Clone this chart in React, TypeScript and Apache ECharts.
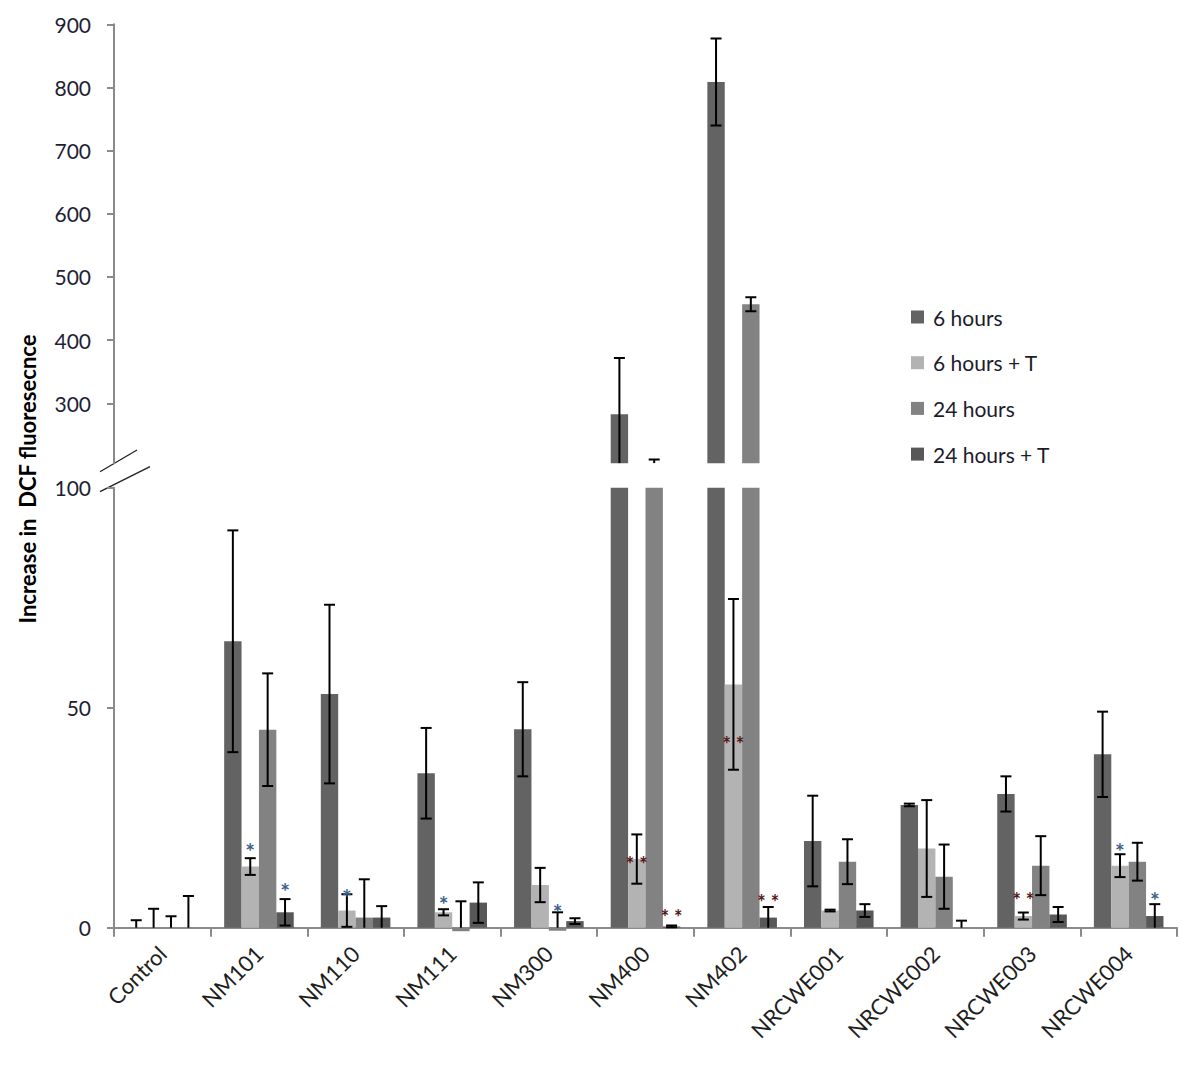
import React, { useEffect, useRef } from "react";
import * as echarts from "echarts";

const categories = ["Control", "NM101", "NM110", "NM111", "NM300", "NM400", "NM402", "NRCWE001", "NRCWE002", "NRCWE003", "NRCWE004"];
const seriesNames = ["6 hours", "6 hours + T", "24 hours", "24 hours + T"];
const colors = ["#636363", "#b3b3b3", "#828282", "#585858"];

const h6 = [0, 65.1, 53.1, 35.1, 45.1, 282.6, 808.7, 19.7, 27.9, 30.4, 39.4];
const h6Err = [1.7, 25.2, 20.3, 10.3, 10.7, 89, 69, 10.3, 0.3, 4.0, 9.7];
const h6T = [0, 13.9, 3.9, 3.5, 9.7, 15.6, 55.3, 3.9, 18.0, 2.65, 14.1];
const h6TErr = [4.3, 1.9, 3.7, 0.7, 3.9, 5.6, 19.4, 0.2, 11.0, 0.8, 2.6];
const h24 = [0, 45.0, 2.3, -0.8, -0.7, 203, 456.8, 15.0, 11.6, 14.1, 15.0];
const h24Err = [2.6, 12.8, 8.7, 6.8, 4.2, 8, 11, 5.1, 7.3, 6.7, 4.3];
const h24T = [0, 3.5, 2.3, 5.7, 1.5, 0.3, 2.3, 3.9, 0, 3.0, 2.65];
const h24TErr = [7.2, 3.0, 2.6, 4.6, 0.65, 0.2, 2.4, 1.45, 1.6, 1.7, 2.7];

// significance marks: text and the value at which they sit
const sig6T = ["", "*", "*", "*", "", "**", "**", "", "", "**", "*"];
const sig6TAt = [0, 19.2, 8.7, 7.3, 0, 15.6, 43, 0, 0, 7.5, 19.2];
const sig24 = ["", "", "", "", "*", "", "", "", "", "", ""];
const sig24At = [0, 0, 0, 0, 5.3, 0, 0, 0, 0, 0, 0];
const sig24T = ["", "*", "", "", "", "**", "**", "", "", "", "*"];
const sig24TAt = [0, 10.2, 0, 0, 0, 3.6, 7.0, 0, 0, 0, 8.1];

const upperTicks = [300, 400, 500, 600, 700, 800, 900];

const values = [h6, h6T, h24, h24T];
const errors = [h6Err, h6TErr, h24Err, h24TErr];
const sigs = [null, sig6T, sig24, sig24T];
const sigAts = [null, sig6TAt, sig24At, sig24TAt];

const UPPER_MIN = 205;
const UPPER_MAX = 900;
const LOWER_MIN = 0;
const LOWER_MAX = 100;
const BAR_FRAC = 0.18;

function errorRenderer(min: number, max: number) {
  return (params: any, api: any) => {
    const c = api.value(0);
    const s = api.value(1);
    const v = api.value(2);
    const e = api.value(3);
    const lo = v - e;
    const hi = v + e;
    const cLo = Math.max(lo, min);
    const cHi = Math.min(hi, max);
    if (cHi <= cLo) return null;
    const center = api.coord([c, min])[0];
    const band = api.size([1, 0])[0];
    const bw = band * BAR_FRAC;
    const x = center + (s - 1.5) * bw;
    const yHi = api.coord([c, cHi])[1];
    const yLo = api.coord([c, cLo])[1];
    const style = { stroke: "#000", lineWidth: 2 };
    const cap = 5.5;
    const children: any[] = [
      { type: "line", shape: { x1: x, y1: yHi, x2: x, y2: yLo }, style },
    ];
    if (hi <= max) children.push({ type: "line", shape: { x1: x - cap, y1: yHi, x2: x + cap, y2: yHi }, style });
    if (lo >= min) children.push({ type: "line", shape: { x1: x - cap, y1: yLo, x2: x + cap, y2: yLo }, style });
    return { type: "group", children };
  };
}

const sigData: { c: number; s: number; at: number; text: string }[] = [];
sigs.forEach((arr, s) => {
  if (!arr) return;
  arr.forEach((t, c) => {
    if (t) sigData.push({ c, s, at: (sigAts[s] as number[])[c], text: t });
  });
});

function sigRenderer(params: any, api: any) {
  const c = api.value(0);
  const s = api.value(1);
  const y = api.value(2);
  const item = sigData[params.dataIndex];
  const center = api.coord([c, 0])[0];
  const band = api.size([1, 0])[0];
  const bw = band * BAR_FRAC;
  const x = center + (s - 1.5) * bw;
  const py = api.coord([c, y])[1];
  const dbl = item.text === "**";
  return {
    type: "text",
    x,
    y: py + (dbl ? 5 : 8),
    style: {
      text: dbl ? "* *" : "*",
      fill: dbl ? "#5a1414" : "#3c5f8e",
      font: dbl ? "bold 20px Lato" : "bold 23px Lato",
      textAlign: "center",
      textVerticalAlign: "middle",
    },
  };
}

export default function App() {
  const ref = useRef<HTMLDivElement>(null);
  useEffect(() => {
    document.body.style.margin = "0";
    if (!ref.current) return;
    const chart = echarts.init(ref.current, null, { renderer: "svg" });

    const errData: number[][] = [];
    values.forEach((arr, s) => arr.forEach((v, c) => errData.push([c, s, v, errors[s][c]])));

    const labelStyle = { color: "#1e1e36", fontSize: 21, fontFamily: "Lato" };
    const axisLineStyle = { color: "#8a8a8a", width: 2 };

    const barSeries: any[] = [];
    values.forEach((arr, s) => {
      barSeries.push({
        name: seriesNames[s],
        type: "bar",
        xAxisIndex: 0,
        yAxisIndex: 0,
        data: arr,
        barWidth: BAR_FRAC * 100 + "%",
        barGap: "0%",
        itemStyle: { color: colors[s] },
        clip: true,
      });
      barSeries.push({
        name: seriesNames[s],
        type: "bar",
        xAxisIndex: 1,
        yAxisIndex: 1,
        data: arr.map((v) => Math.min(v, LOWER_MAX)),
        barWidth: BAR_FRAC * 100 + "%",
        barGap: "0%",
        itemStyle: { color: colors[s] },
        clip: false,
      });
    });

    const option: any = {
      animation: false,
      textStyle: { fontFamily: "Lato" },
      grid: [
        { left: 114, top: 24.3, width: 1063, height: 439 },
        { left: 114, top: 487.7, width: 1063, height: 440 },
      ],
      legend: {
        orient: "vertical",
        left: 906,
        top: 301,
        itemWidth: 13,
        itemHeight: 13,
        itemGap: 23.7,
        icon: "rect",
        data: seriesNames,
        textStyle: { fontSize: 21, color: "#1c1c2c", lineHeight: 22, padding: [0, 0, 0, 4] },
        selectedMode: false,
      },
      xAxis: [
        {
          type: "category",
          gridIndex: 0,
          data: categories,
          show: false,
        },
        {
          type: "category",
          gridIndex: 1,
          data: categories,
          axisLine: { lineStyle: axisLineStyle },
          axisTick: { show: true, length: 9, lineStyle: axisLineStyle },
          axisLabel: { rotate: 45, margin: 22, fontSize: 22, color: "#1e1e1e", fontFamily: "Lato", interval: 0 },
        },
      ],
      yAxis: [
        {
          type: "value",
          gridIndex: 0,
          min: UPPER_MIN,
          max: UPPER_MAX,
          axisLine: { show: true, lineStyle: axisLineStyle },
          axisTick: { show: true, length: 7, lineStyle: axisLineStyle, customValues: upperTicks },
          axisLabel: { ...labelStyle, margin: 23, customValues: upperTicks },
          splitLine: { show: false },
        },
        {
          type: "value",
          gridIndex: 1,
          min: LOWER_MIN,
          max: LOWER_MAX,
          interval: 50,
          axisLine: { show: true, lineStyle: axisLineStyle },
          axisTick: { show: true, length: 7, lineStyle: axisLineStyle },
          axisLabel: { ...labelStyle, margin: 23 },
          splitLine: { show: false },
        },
      ],
      series: [
        ...barSeries,
        {
          type: "custom",
          xAxisIndex: 0,
          yAxisIndex: 0,
          data: errData,
          renderItem: errorRenderer(UPPER_MIN, UPPER_MAX),
          clip: true,
          z: 5,
        },
        {
          type: "custom",
          xAxisIndex: 1,
          yAxisIndex: 1,
          data: errData,
          renderItem: errorRenderer(LOWER_MIN, LOWER_MAX),
          z: 5,
        },
        {
          type: "custom",
          xAxisIndex: 1,
          yAxisIndex: 1,
          data: sigData.map((d) => [d.c, d.s, d.at]),
          renderItem: sigRenderer,
          z: 6,
        },
      ],
      graphic: [
        {
          type: "text",
          x: 27,
          y: 479,
          rotation: Math.PI / 2,
          style: {
            text: "Increase in  DCF fluoresecnce",
            font: "bold 22px Lato",
            fill: "#000",
            textAlign: "center",
            textVerticalAlign: "middle",
          },
        },
        {
          type: "line",
          shape: { x1: 100, y1: 471.7, x2: 137, y2: 450 },
          style: { stroke: "#222", lineWidth: 1.3 },
        },
        {
          type: "line",
          shape: { x1: 100, y1: 491.7, x2: 150, y2: 466.7 },
          style: { stroke: "#222", lineWidth: 1.3 },
        },
      ],
    };
    chart.setOption(option);
    return () => chart.dispose();
  }, []);
  return <div ref={ref} style={{ width: 1200, height: 1069 }} />;
}
